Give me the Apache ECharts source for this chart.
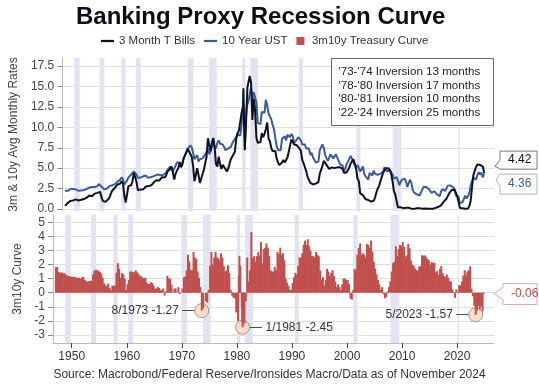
<!DOCTYPE html>
<html><head><meta charset="utf-8">
<script src="https://cdn.jsdelivr.net/npm/echarts@6/dist/echarts.min.js"></script>
<style>html,body{margin:0;padding:0;background:#fff}#c{width:539px;height:386px}</style>
</head><body><div id="c"></div>
<script>
// ---- data (quarterly readings: Feb, May, Aug, Nov of each year) ----
const firstYear = 1947;
const quarterMonths = [2, 5, 8, 11];
const bill3m = [
0.38,0.38,0.74,0.92, 0.99,1.00,1.05,1.15, 1.17,1.17,1.04,1.08,
1.12,1.16,1.21,1.37, 1.39,1.58,1.64,1.61, 1.57,1.69,1.88,1.97, 1.97,2.20,2.10,1.44, 0.98,0.76,0.87,0.93,
1.18,1.43,1.89,2.24, 2.37,2.60,2.60,3.00, 3.14,3.11,3.40,3.10, 1.58,0.80,1.80,2.80, 2.61,2.90,3.40,4.40,
3.90,3.30,2.30,2.40, 2.40,2.30,2.40,2.50, 2.75,2.70,2.80,2.80, 2.90,2.90,3.30,3.50, 3.53,3.48,3.50,3.60,
3.90,3.90,3.85,4.10, 4.60,4.60,4.90,5.20, 4.50,3.60,4.30,4.70, 5.00,5.70,5.10,5.40, 6.20,6.00,7.00,7.40,
7.30,6.70,6.40,5.30, 3.40,4.10,5.00,4.20, 3.20,3.70,3.80,4.80, 5.60,6.40,8.67,7.80, 7.10,8.20,8.70,7.50,
5.50,5.20,6.40,5.50, 4.90,5.40,5.15,4.90, 4.60,4.90,5.50,6.10, 6.40,6.40,7.00,8.60, 9.30,9.60,9.40,11.80,
12.50,9.00,9.20,13.70, 14.80,16.30,15.50,10.90, 13.50,12.10,8.70,8.10, 8.10,8.20,9.30,8.80, 9.20,9.80,10.60,8.60,
8.30,7.50,7.10,7.20, 7.10,6.20,5.70,5.40, 5.60,5.70,6.00,5.70, 5.70,6.30,7.00,7.80, 8.50,8.40,7.90,7.70,
7.80,7.70,7.40,7.10, 6.00,5.60,5.40,4.60, 3.90,3.70,3.20,3.10, 3.00,3.00,3.10,3.10, 3.30,4.30,4.50,5.30,
5.90,5.70,5.40,5.40, 4.90,5.00,5.10,5.00, 5.00,5.10,5.10,5.10, 5.10,5.00,4.90,4.40, 4.40,4.50,4.80,5.10,
5.60,5.80,6.10,6.20, 4.90,3.70,3.40,1.90, 1.70,1.70,1.60,1.20, 1.20,1.10,0.95,0.90, 0.90,1.00,1.40,2.00,
2.50,2.80,3.40,3.90, 4.40,4.70,5.00,5.00, 5.00,4.70,4.30,3.40, 2.20,1.80,1.70,0.20, 0.30,0.20,0.20,0.10,
0.10,0.16,0.15,0.14, 0.13,0.04,0.02,0.01, 0.09,0.09,0.10,0.09, 0.10,0.04,0.04,0.07, 0.05,0.03,0.03,0.02,
0.02,0.02,0.07,0.13, 0.33,0.27,0.30,0.45, 0.53,0.90,1.03,1.25, 1.57,1.90,2.07,2.33, 2.44,2.35,1.99,1.57,
1.54,0.13,0.10,0.09, 0.04,0.02,0.05,0.05, 0.33,1.02,2.63,4.15, 4.69,5.14,5.44,5.45, 5.40,5.45,5.20,4.42
];
const ust10y = [
2.20,2.20,2.22,2.30, 2.45,2.38,2.45,2.45, 2.40,2.35,2.22,2.20,
2.25,2.30,2.33,2.40, 2.45,2.65,2.62,2.70, 2.70,2.60,2.70,2.75, 2.80,3.05,2.95,2.75, 2.55,2.40,2.45,2.50,
2.65,2.80,2.95,2.90, 2.90,3.05,3.25,3.35, 3.35,3.60,3.90,3.60, 3.00,2.90,3.50,3.85, 4.00,4.20,4.40,4.60,
4.50,4.20,3.80,3.90, 3.85,3.75,4.00,3.95, 4.10,3.85,4.00,3.85, 3.92,3.97,4.02,4.12, 4.15,4.22,4.20,4.12,
4.18,4.20,4.25,4.45, 4.80,4.75,5.20,5.00, 4.60,4.80,5.30,5.70, 5.55,5.70,5.40,5.70, 6.20,6.40,6.90,7.40,
7.60,7.80,7.55,6.90, 6.10,6.30,6.60,5.80, 6.10,6.20,6.20,6.30, 6.65,6.80,7.40,6.70, 7.10,7.60,8.00,7.70,
7.40,8.10,8.40,8.00, 7.80,7.90,7.60,7.20, 7.40,7.40,7.40,7.60, 8.00,8.35,8.40,8.80, 9.10,9.25,9.00,10.40,
12.40,10.20,11.10,12.70, 13.10,14.10,14.90,13.40, 14.30,13.70,13.00,10.55, 10.70,10.40,11.90,11.70, 11.80,13.40,12.70,11.70,
11.50,11.00,10.30,9.80, 8.70,7.70,7.20,7.25, 7.20,8.60,8.75,8.90, 8.40,9.10,9.30,8.80, 9.20,8.90,8.10,7.90,
8.50,8.80,8.80,8.40, 7.90,8.10,7.90,7.40, 7.30,7.40,6.60,6.90, 6.30,6.00,5.70,5.70, 5.80,7.20,7.20,7.90,
7.50,6.60,6.50,5.90, 5.80,6.70,6.60,6.20, 6.40,6.70,6.30,5.90, 5.50,5.60,5.30,4.60, 5.00,5.50,5.80,6.00,
6.50,6.40,5.70,5.70, 5.10,5.40,5.00,4.60, 4.90,5.20,4.30,4.00, 3.90,3.60,4.40,4.30, 4.10,4.70,4.30,4.20,
4.20,4.10,4.30,4.50, 4.60,5.10,4.90,4.60, 4.70,4.80,4.70,4.20, 3.70,3.90,3.90,3.50, 2.90,3.30,3.60,3.40,
3.70,3.40,2.70,2.80, 3.60,3.20,2.30,2.00, 2.00,1.80,1.70,1.65, 1.98,1.93,2.70,2.70, 2.70,2.56,2.42,2.33,
1.98,2.20,2.17,2.26, 1.78,1.81,1.56,2.14, 2.42,2.30,2.21,2.35, 2.86,2.98,2.89,3.12, 2.68,2.40,1.63,1.81,
1.50,0.67,0.62,0.87, 1.26,1.62,1.28,1.56, 1.93,2.90,2.90,3.89, 3.75,3.57,4.17,4.50, 4.21,4.48,3.87,4.36
];
// extra monthly readings around the 1980-81 swings
const extraDates = ['1980-03', '1980-06', '1980-12', '1981-01'];
const extraBill3m = [14.80, 7.20, 14.90, 15.02];
const extraUst10y = [12.80, 9.80, 12.80, 12.57];
// NBER recessions
const recessions = [
  ['1948-11','1949-10'], ['1953-07','1954-05'], ['1957-08','1958-04'], ['1960-04','1961-02'],
  ['1969-12','1970-11'], ['1973-11','1975-03'], ['1980-01','1980-07'], ['1981-07','1982-11'],
  ['1990-07','1991-03'], ['2001-03','2001-11'], ['2007-12','2009-06'], ['2020-02','2020-04']
];
const xTicks = [1950, 1960, 1970, 1980, 1990, 2000, 2010, 2020];
const rateTicks = [0, 2.5, 5, 7.5, 10, 12.5, 15, 17.5];
const curveTicks = [-3, -2, -1, 0, 1, 2, 3, 4, 5];
const annotations = [
  { date: '1973-08', value: -1.27, side: 'left' },
  { date: '1981-01', value: -2.45, side: 'right' },
  { date: '2023-05', value: -1.57, side: 'left' }
];
const boxLines = ["'73-'74 Inversion 13 months", "'78-'80 Inversion 17 months",
                  "'80-'81 Inversion 10 months", "'22-'24 Inversion 25 months"];

// ---- build ----
function dec(s) { const [y, m] = s.split('-').map(Number); return y + (m - 0.5) / 12; }
const rows = [];
bill3m.forEach((v, i) => {
  const y = firstYear + Math.floor(i / 4), m = quarterMonths[i % 4];
  rows.push([y + (m - 0.5) / 12, v, ust10y[i]]);
});
extraDates.forEach((d, i) => rows.push([dec(d), extraBill3m[i], extraUst10y[i]]));
rows.sort((a, b) => a[0] - b[0]);
const s3m = rows.map(r => [r[0], r[1]]);
const s10y = rows.map(r => [r[0], r[2]]);
const sCurve = rows.map(r => [r[0], +(r[2] - r[1]).toFixed(2)]);
const lastRow = rows[rows.length - 1];

const XMIN = 1946.6, XMAX = 2026.7;
const FONT = 'Liberation Sans, Arial, sans-serif';
const bandData = recessions.map(([a, b]) => {
  const [ya, ma] = a.split('-').map(Number), [yb, mb] = b.split('-').map(Number);
  return [ya + (ma - 1) / 12, yb + mb / 12];
});
function bandSeries(idx) {
  return {
    type: 'custom', xAxisIndex: idx, yAxisIndex: idx, zlevel: 0, z: 0, silent: true, data: bandData,
    encode: { x: [0, 1] },
    renderItem: (params, api) => {
      const s = api.coord([api.value(0), 0]), e = api.coord([api.value(1), 0]);
      const cs = params.coordSys;
      return { type: 'rect', shape: { x: s[0], y: cs.y, width: e[0] - s[0], height: cs.height },
               style: { fill: '#e2e2f2' } };
    }
  };
}

function monthLabel(d, v) { const [y, m] = d.split('-').map(Number); return m + '/' + y + ' ' + v.toFixed(2); }

const chart = echarts.init(document.getElementById('c'), null, { renderer: 'canvas' });
const option = {
  animation: false,
  textStyle: { fontFamily: FONT },
  title: [
    { text: 'Banking Proxy Recession Curve', left: 71, top: 0,
      textStyle: { fontSize: 24, fontWeight: 'bold', color: '#0d0d1a', fontFamily: FONT } },
    { text: 'Source: Macrobond/Federal Reserve/Ironsides Macro/Data as of November 2024', left: 'center', bottom: 0,
      textStyle: { fontSize: 12, fontWeight: 'normal', color: '#333', fontFamily: FONT } }
  ],
  legend: {
    top: 30, left: 96, itemWidth: 13, itemHeight: 8, itemGap: 9,
    textStyle: { fontSize: 11.5, color: '#333' },
    data: [
      { name: '3 Month T Bills', icon: 'path://M0,0H14V2.4H0Z' },
      { name: '10 Year UST', icon: 'path://M0,0H14V2.4H0Z' },
      { name: '3m10y Treasury Curve', icon: 'path://M0,0H8V8H0Z' }
    ]
  },
  grid: [
    { left: 53, right: 45, top: 58, height: 153 },
    { left: 53, right: 45, top: 215, height: 128 }
  ],
  xAxis: [
    { gridIndex: 0, type: 'value', min: XMIN, max: XMAX,
      axisLine: { show: false }, axisTick: { show: false }, axisLabel: { show: false }, splitLine: { show: false } },
    { gridIndex: 1, type: 'value', min: XMIN, max: XMAX,
      axisLine: { show: true, onZero: false, lineStyle: { color: '#bbb' } },
      axisTick: { show: true, customValues: xTicks, length: 5, lineStyle: { color: '#444' } },
      axisLabel: { customValues: xTicks, formatter: v => String(v), color: '#333', fontSize: 12, margin: 8 },
      splitLine: { show: false } }
  ],
  yAxis: [
    { gridIndex: 0, type: 'value', min: -0.25, max: 18.5,
      name: '3m & 10y Avg Monthly Rates', nameLocation: 'middle', nameGap: 39,
      nameTextStyle: { fontSize: 12, color: '#444' },
      axisLine: { show: true, lineStyle: { color: '#bbb' } },
      axisTick: { show: true, customValues: rateTicks, length: 5, lineStyle: { color: '#888' } },
      axisLabel: { customValues: rateTicks, formatter: v => v.toFixed(1), color: '#444', fontSize: 12, margin: 8 },
      splitLine: { show: true, lineStyle: { color: '#dedede' } } },
    { gridIndex: 1, type: 'value', min: -3.57, max: 5.52,
      name: '3m10y Curve', nameLocation: 'middle', nameGap: 24,
      nameTextStyle: { fontSize: 12, color: '#444' },
      axisLine: { show: true, onZero: false, lineStyle: { color: '#bbb' } },
      axisTick: { show: true, customValues: curveTicks, length: 5, lineStyle: { color: '#888' } },
      axisLabel: { customValues: curveTicks, formatter: v => String(v), color: '#444', fontSize: 12, margin: 8 },
      splitLine: { show: true, lineStyle: { color: '#dedede' } } }
  ],
  series: [
    bandSeries(0),
    bandSeries(1),
    { name: '10 Year UST', type: 'line', xAxisIndex: 0, yAxisIndex: 0, data: s10y, zlevel: 1, z: 3,
      symbol: 'none', lineStyle: { width: 2, color: '#3d5a99' }, itemStyle: { color: '#3d5a99' } },
    { name: '3 Month T Bills', type: 'line', xAxisIndex: 0, yAxisIndex: 0, data: s3m, zlevel: 1, z: 4,
      symbol: 'none', lineStyle: { width: 2, color: '#0d1226' }, itemStyle: { color: '#0d1226' } },
    { name: '3m10y Treasury Curve', type: 'bar', xAxisIndex: 1, yAxisIndex: 1, data: sCurve, zlevel: 1, z: 3,
      barWidth: 2, itemStyle: { color: '#c0504d' },
      markPoint: {
        symbol: 'circle', symbolSize: 14,
        itemStyle: { color: 'rgba(251,214,190,0.8)', borderColor: '#999', borderWidth: 1 },
        data: annotations.map(a => ({
          coord: [dec(a.date), a.value],
          label: { show: true, position: a.side, distance: 0, fontSize: 12, color: '#333',
            formatter: a.side === 'left' ? monthLabel(a.date, a.value) + ' \u2014' : '\u2014 ' + monthLabel(a.date, a.value) }
        }))
      } }
  ]
};
chart.setOption(option);

// ---- callout labels at the right edge, placed through the axes ----
const xEdge = chart.convertToPixel({ xAxisIndex: 0 }, XMAX);
function callout(tipX, tipY, bx, by, w, h, half, text, color, stroke) {
  const top = Math.max(tipY - half, by), bot = Math.min(tipY + half, by + h);
  return { type: 'group', silent: true, zlevel: 1, children: [
    { type: 'polygon', shape: { points: [[bx, by], [bx + w, by], [bx + w, by + h], [bx, by + h], [bx, bot], [tipX, tipY], [bx, top]] },
      style: { fill: '#fff', stroke: stroke, lineWidth: 1 } },
    { type: 'text', x: bx + 8, y: by + h / 2, style: { text: text, fill: color, fontSize: 12, fontFamily: FONT, verticalAlign: 'middle', align: 'left' } }
  ] };
}
const vTop = chart.convertToPixel({ yAxisIndex: 0 }, (lastRow[1] + lastRow[2]) / 2);
const vCurve = chart.convertToPixel({ yAxisIndex: 1 }, sCurve[sCurve.length - 1][1]);
const graphics = [
  callout(xEdge + 1, vTop - 7, xEdge + 6, vTop - 22, 37, 18, 6, lastRow[1].toFixed(2), '#111', '#777'),
  callout(xEdge + 2, vTop + 7, xEdge + 6, vTop + 1, 37, 20, 6, lastRow[2].toFixed(2), '#3d5a99', '#a8b4cc'),
  callout(xEdge, vCurve, xEdge + 9, vCurve - 10, 34, 21, 6, sCurve[sCurve.length - 1][1].toFixed(2), '#c0504d', '#e2a8a6'),
  { type: 'group', left: 331, top: 58, silent: true, zlevel: 1, children: [
    { type: 'rect', shape: { x: 0, y: 0, width: 162, height: 67 }, style: { fill: '#fff', stroke: '#666', lineWidth: 1 } }
  ].concat(boxLines.map((t, i) => ({ type: 'text', x: 7, y: 13.7 + i * 13.5,
      style: { text: t, fill: '#222', fontSize: 11.6, fontFamily: FONT, verticalAlign: 'middle' } }))) }
];
chart.setOption({ graphic: graphics });
</script></body></html>
